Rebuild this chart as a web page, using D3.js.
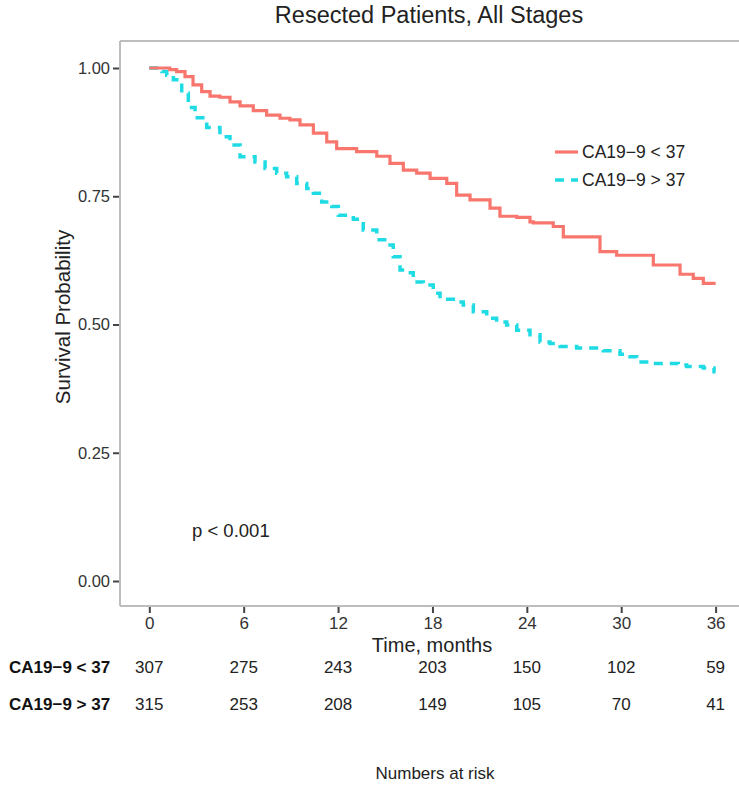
<!DOCTYPE html>
<html><head><meta charset="utf-8">
<script src="https://cdn.jsdelivr.net/npm/d3@7"></script>
<style>body{margin:0;background:#fff;} text{font-family:"Liberation Sans",Arial,sans-serif;}</style>
</head><body>
<svg id="c" width="739" height="785"></svg>
<script>
const title = "Resected Patients, All Stages";
const groups = ["CA19\u22129 < 37", "CA19\u22129 > 37"];
const xTicks = [0, 6, 12, 18, 24, 30, 36];
const yTicks = [0, 0.25, 0.5, 0.75, 1.0];
const lowTimes = [0, 1.3, 1.74, 2.27, 2.78, 3.33, 3.86, 4.49, 5.13, 5.77, 6.61, 7.46, 8.31, 8.94, 9.58, 10.43, 11.28, 11.91, 13.18, 14.46, 15.30, 16.15, 17.0, 17.85, 18.91, 19.54, 20.39, 21.66, 22.29, 23.36, 24.20, 24.41, 25.68, 26.32, 28.65, 29.71, 32.04, 33.74, 34.58, 35.22, 36];
const lowSurv  = [1.0, 0.997, 0.993, 0.983, 0.967, 0.954, 0.945, 0.943, 0.934, 0.926, 0.917, 0.908, 0.902, 0.899, 0.889, 0.873, 0.856, 0.843, 0.837, 0.828, 0.814, 0.801, 0.795, 0.785, 0.775, 0.752, 0.743, 0.727, 0.711, 0.709, 0.700, 0.698, 0.691, 0.671, 0.642, 0.635, 0.616, 0.598, 0.590, 0.580, 0.580];
const highTimes = [0, 0.8, 1.11, 1.53, 2.06, 2.48, 2.91, 3.65, 4.49, 5.13, 5.77, 6.72, 7.36, 8.10, 8.73, 9.37, 10.01, 10.43, 10.96, 11.60, 12.02, 12.97, 13.60, 14.46, 15.09, 15.51, 15.94, 16.36, 16.78, 17.42, 18.05, 18.48, 19.33, 19.96, 20.60, 21.45, 22.08, 22.72, 23.36, 24.20, 24.84, 25.47, 26.11, 27.17, 28.86, 29.92, 30.56, 30.98, 32.04, 33.63, 34.16, 35.22, 35.9, 36];
const highSurv  = [1.0, 0.993, 0.986, 0.977, 0.951, 0.923, 0.903, 0.884, 0.866, 0.850, 0.827, 0.817, 0.804, 0.795, 0.788, 0.775, 0.765, 0.756, 0.739, 0.730, 0.713, 0.705, 0.684, 0.665, 0.655, 0.632, 0.606, 0.601, 0.583, 0.577, 0.561, 0.549, 0.544, 0.538, 0.525, 0.512, 0.505, 0.499, 0.489, 0.480, 0.466, 0.463, 0.457, 0.454, 0.449, 0.442, 0.437, 0.427, 0.424, 0.421, 0.418, 0.415, 0.408, 0.408];
const riskLow  = [307, 275, 243, 203, 150, 102, 59];
const riskHigh = [315, 253, 208, 149, 105, 70, 41];
const colors = ["#F8766D", "#1fdbe3"];

const svg = d3.select("#c");
const x = d3.scaleLinear().domain([0, 36]).range([149.3, 715.6]);
const y = d3.scaleLinear().domain([0, 1]).range([581, 68]);
const panel = {left: 120, top: 41, bottom: 606, right: 739};
const FF = "Liberation Sans, Arial, sans-serif";

// title
svg.append("text").attr("x", 429).attr("y", 23).attr("text-anchor", "middle")
  .attr("font-size", 23.5).attr("fill", "#222").text(title);

svg.append("line").attr("x1", panel.left).attr("x2", panel.right).attr("y1", panel.top).attr("y2", panel.top)
  .attr("stroke", "#bdbdbd").attr("stroke-width", 2);

// y axis
const yAxis = svg.append("g").attr("transform", `translate(${panel.left},0)`)
  .call(d3.axisLeft(y).tickValues(yTicks).tickFormat(d3.format(".2f")).tickSize(6).tickPadding(4));
yAxis.select(".domain").remove();
svg.append("line").attr("x1", panel.left).attr("x2", panel.left).attr("y1", panel.top).attr("y2", panel.bottom)
  .attr("stroke", "#bdbdbd").attr("stroke-width", 2);
yAxis.selectAll(".tick line").attr("stroke", "#444").attr("stroke-width", 2).attr("x1", -7).attr("x2", -1);
yAxis.selectAll(".tick text").attr("font-size", 16.5).attr("fill", "#333").attr("font-family", FF);

// x axis
const xAxis = svg.append("g").attr("transform", `translate(0,${panel.bottom})`)
  .call(d3.axisBottom(x).tickValues(xTicks).tickSize(6).tickPadding(5));
xAxis.select(".domain").remove();
svg.append("line").attr("x1", panel.left).attr("x2", panel.right).attr("y1", panel.bottom).attr("y2", panel.bottom)
  .attr("stroke", "#bdbdbd").attr("stroke-width", 2);
xAxis.selectAll(".tick line").attr("stroke", "#444").attr("stroke-width", 2).attr("y1", 1).attr("y2", 7);
xAxis.selectAll(".tick text").attr("font-size", 17).attr("fill", "#333").attr("font-family", FF);

// axis titles
svg.append("text").attr("x", 432).attr("y", 652).attr("text-anchor", "middle")
  .attr("font-size", 20).attr("fill", "#222").text("Time, months");
svg.append("text").attr("transform", "translate(70,317) rotate(-90)").attr("text-anchor", "middle")
  .attr("font-size", 20.5).attr("fill", "#222").text("Survival Probability");

// curves
const line = d3.line().x(d => x(d[0])).y(d => y(d[1])).curve(d3.curveStepAfter);
const lowData = lowTimes.map((t, i) => [t, lowSurv[i]]);
const highData = highTimes.map((t, i) => [t, highSurv[i]]);
svg.append("path").datum(highData).attr("d", line).attr("fill", "none")
  .attr("stroke", colors[1]).attr("stroke-width", 3.5).attr("stroke-dasharray", "9,7");
svg.append("path").datum(lowData).attr("d", line).attr("fill", "none")
  .attr("stroke", colors[0]).attr("stroke-width", 3.2);

// p-value
svg.append("text").attr("x", 192).attr("y", 537).attr("font-size", 18.5).attr("fill", "#222").text("p < 0.001");

// legend
const leg = svg.append("g");
[0, 1].forEach(i => {
  const ly = 152 + i * 28;
  leg.append("line").attr("x1", 555).attr("x2", 578).attr("y1", ly).attr("y2", ly)
    .attr("stroke", colors[i]).attr("stroke-width", i ? 3.5 : 3.2)
    .attr("stroke-dasharray", i ? "9,7" : null);
  leg.append("text").attr("x", 582).attr("y", ly + 6).attr("font-size", 17.5).attr("fill", "#222").text(groups[i]);
});

// risk table
[riskLow, riskHigh].forEach((row, r) => {
  const ry = 673 + r * 37;
  svg.append("text").attr("x", 9).attr("y", ry).attr("font-size", 17).attr("font-weight", "bold")
    .attr("fill", "#111").text(groups[r]);
  svg.selectAll(null).data(row).enter().append("text")
    .attr("x", (d, i) => x(xTicks[i])).attr("y", ry).attr("text-anchor", "middle")
    .attr("font-size", 17).attr("fill", "#222").text(d => d);
});
svg.append("text").attr("x", 435).attr("y", 779).attr("text-anchor", "middle")
  .attr("font-size", 17).attr("fill", "#222").text("Numbers at risk");
</script>
</body></html>
